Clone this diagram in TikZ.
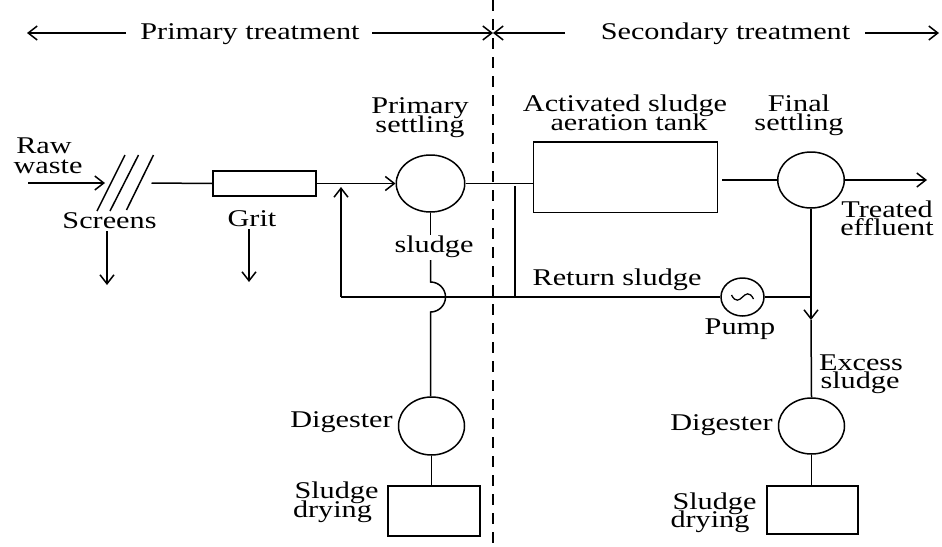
\documentclass[tikz,border=0pt]{standalone}
\usepackage{fontspec}
\setmainfont{Liberation Serif}[FakeStretch=1.26]
\usetikzlibrary{arrows.meta,shapes.geometric}
\begin{document}
\begin{tikzpicture}[x=1pt,y=-1pt,line width=1.5pt,
  lbl/.style={font=\fontsize{24}{19}\selectfont,inner sep=0pt,anchor=base},
  arr/.style={-{Straight Barb[length=9pt,width=14pt,line width=1.5pt]}},
  unit/.style={draw,ellipse,inner sep=0pt},
  tank/.style={draw,rectangle,inner sep=0pt}]
\useasboundingbox[fill=white] (0,0) rectangle (942,546);
% dashed divider
\draw[line width=1.3pt,dash pattern=on 11pt off 8pt] (493,0) coordinate (dvt) -- (493,546) coordinate (dvb);
% header
\node[lbl] (ptr) at (250,39) {Primary treatment};
\node[lbl] (str) at (725.5,39) {Secondary treatment};
\coordinate (h0) at (27,33); \coordinate (h1) at (126,33);
\coordinate (h2) at (372,33); \coordinate (hm) at (493,33);
\coordinate (h3) at (565,33); \coordinate (h4) at (865,33);
\coordinate (h5) at (939,33);
\draw[arr] (h1) -- (h0);
\draw[arr] (h2) -- (hm);
\draw[arr] (h3) -- (hm);
\draw[arr] (h4) -- (h5);
% units
\node[tank,minimum width=103pt,minimum height=25pt] (grit) at (264.5,183.5) {};
\node[unit,minimum width=68.5pt,minimum height=57pt] (ps) at (430.5,183.5) {};
\node[tank,minimum width=184pt,minimum height=70.5pt] (at) at (625.3,177) {};
\node[unit,minimum width=66.5pt,minimum height=56pt] (fs) at (811,180) {};
\node[unit,minimum width=43pt,minimum height=38pt] (pump) at (742.5,297) {};
\node[unit,minimum width=66pt,minimum height=58pt] (dg1) at (431.5,426) {};
\node[unit,minimum width=66pt,minimum height=56pt] (dg2) at (811.5,426) {};
\node[tank,minimum width=92pt,minimum height=50pt] (sd1) at (434,511) {};
\node[tank,minimum width=91pt,minimum height=48pt] (sd2) at (812.5,510) {};
% pump tilde
\draw[line width=1.3pt] ([xshift=-11pt,yshift=2pt]pump.center) .. controls ([xshift=-7pt,yshift=-6pt]pump.center) and ([xshift=-3pt,yshift=-3pt]pump.center) .. (pump.center) .. controls ([xshift=3pt,yshift=3pt]pump.center) and ([xshift=7pt,yshift=6pt]pump.center) .. ([xshift=11pt,yshift=-2pt]pump.center);
% labels
\node[lbl] (raw1) at (44,153) {Raw};
\node[lbl] (raw2) at (48,173) {waste};
\node[lbl] (scr) at (109.5,228) {Screens};
\node[lbl] (gritl) at (252,226) {Grit};
\node[lbl] (ps1) at (420,113) {Primary};
\node[lbl] (ps2) at (420,132) {settling};
\node[lbl] (sl) at (434,252) {sludge};
\node[lbl] (at1) at (625,111) {Activated sludge};
\node[lbl] (at2) at (629,130) {aeration tank};
\node[lbl] (fs1) at (799,111) {Final};
\node[lbl] (fs2) at (799,130) {settling};
\node[lbl] (te1) at (887,217) {Treated};
\node[lbl] (te2) at (887,235) {effluent};
\node[lbl] (rs) at (617,285) {Return sludge};
\node[lbl] (pl) at (740,334) {Pump};
\node[lbl] (ex1) at (861,370) {Excess};
\node[lbl] (ex2) at (860,388) {sludge};
\node[lbl] (dl1) at (341.5,427) {Digester};
\node[lbl] (dl2) at (721.5,430) {Digester};
\node[lbl] (sdl1a) at (336.5,498) {Sludge};
\node[lbl] (sdl1b) at (332.5,517) {drying};
\node[lbl] (sdl2a) at (714.5,509) {Sludge};
\node[lbl] (sdl2b) at (710,527) {drying};
% raw waste and screens
\coordinate (rw0) at (28,183); \coordinate (rw1) at (105,183);
\draw[arr] (rw0) -- (rw1);
\draw (97,211) -- (125,155);
\draw (110,211) -- (138.5,155);
\draw (126.5,210) -- (153.5,155);
\coordinate (sc1) at (151.5,183);
\draw (sc1) -- (grit.west);
\draw[arr] (grit.east) -- (ps.west);
% removal arrows
\coordinate (sa0) at (107,231); \coordinate (sa1) at (107,285);
\coordinate (ga0) at (249,229); \coordinate (ga1) at (249,282);
\draw[arr] (sa0) -- (sa1);
\draw[arr] (ga0) -- (ga1);
% main line to secondary
\draw (ps.east) -- (ps.east -| at.west);
\draw ([xshift=4pt]at.east |- fs.west) -- (fs.west);
\coordinate (eff) at (927,180);
\draw[arr] (fs.east) -- (eff);
% excess sludge line
\coordinate (xa) at (811,320);
\draw[arr] (fs.south) -- (xa);
\draw (xa) -- (dg2.north);
\draw (dg2.south) -- (dg2.south |- sd2.north);
% return sludge
\coordinate (ret0) at (341,297); \coordinate (ret1) at (341,187);
\coordinate (jn) at (811,297);
\coordinate (br0) at (515,186); \coordinate (br1) at (515,297);
\draw[arr] (ret0) -- (ret1);
\draw (ret0) -- (pump.west);
\draw (pump.east) -- (jn);
\draw (br0) -- (br1);
% primary sludge line with jump
\coordinate (s0) at (430.5,235); \coordinate (s1) at (430.5,260);
\coordinate (s2) at (430.5,282); \coordinate (s3) at (430.5,312);
\draw (ps.south) -- (s0);
\draw (s1) -- (s2) .. controls (438.8,282) and (445.5,288.7) .. (445.5,297) .. controls (445.5,305.3) and (438.8,312) .. (s3) -- (s3 |- dg1.north);
\draw (dg1.south) -- (dg1.south |- sd1.north);
\end{tikzpicture}
\end{document}
